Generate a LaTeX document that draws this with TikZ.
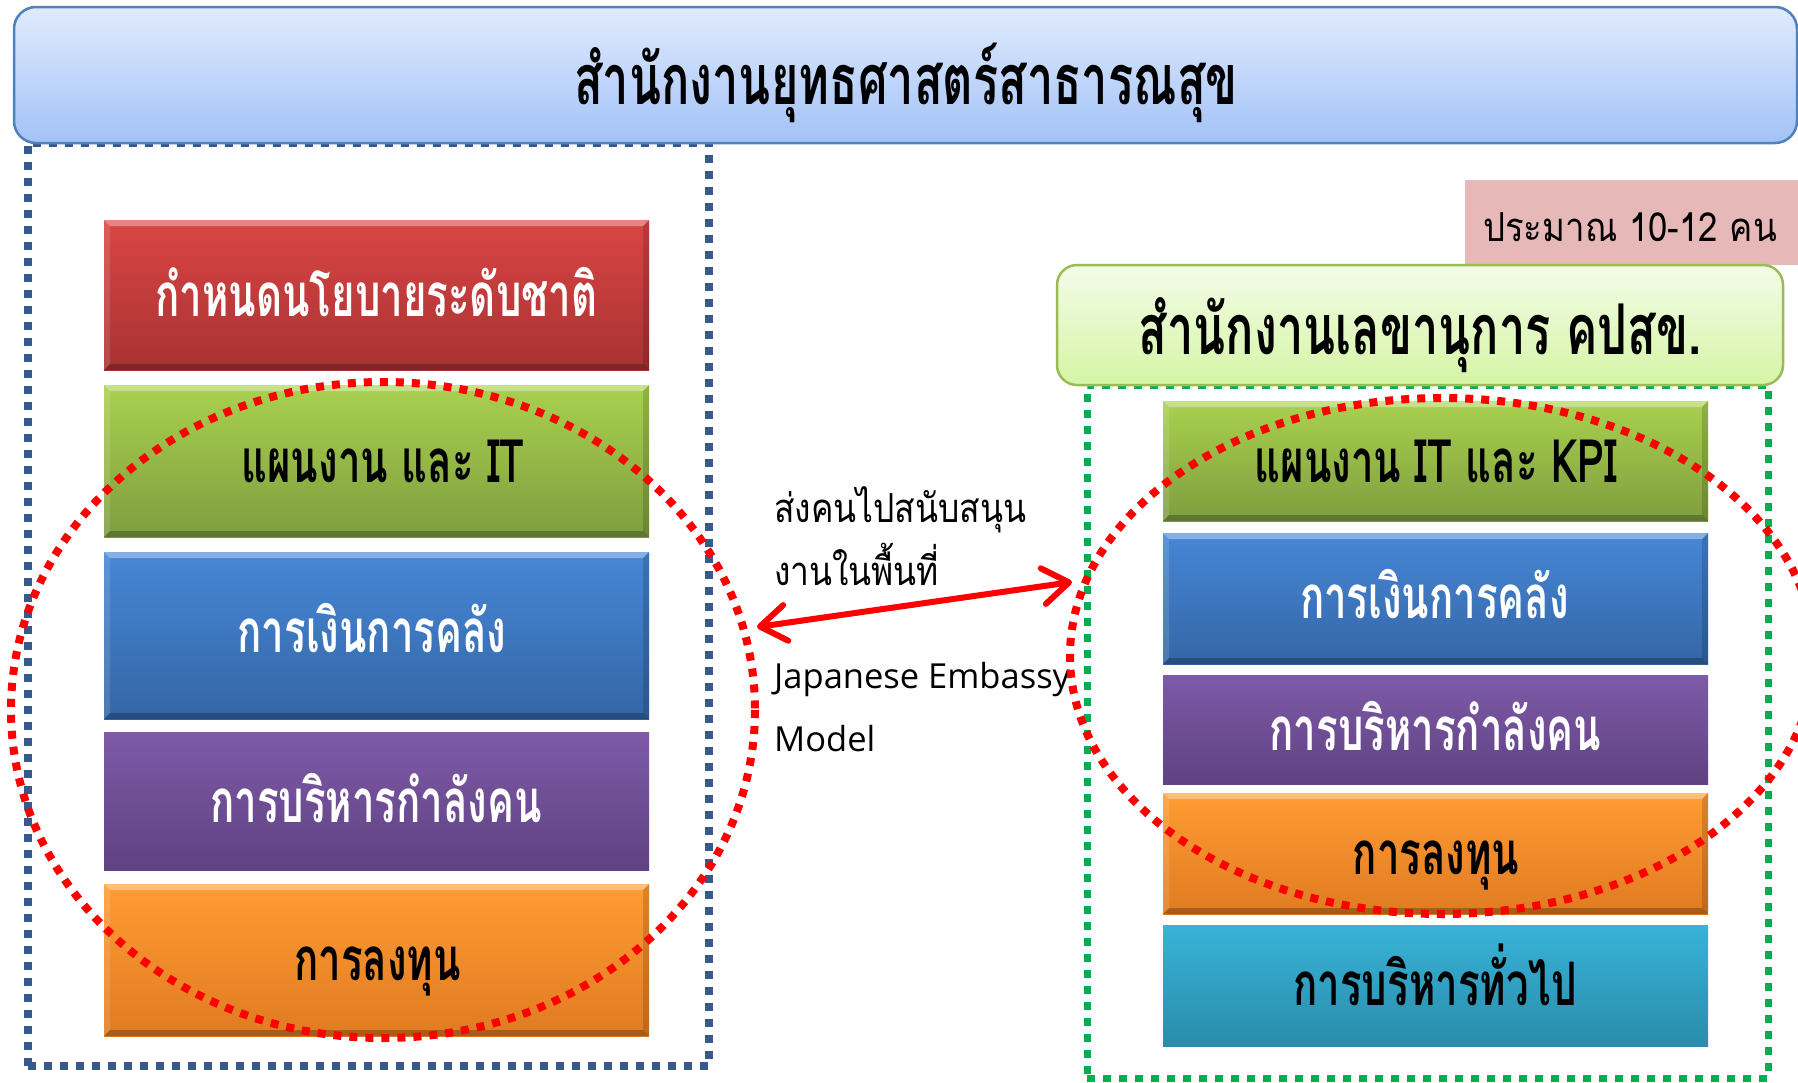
\documentclass[tikz,border=0pt]{standalone}
\usepackage{fontspec}
\usetikzlibrary{arrows.meta}
\newfontfamily\thaib[Script=Thai,FakeStretch=0.67]{Loma}
\newfontfamily\thair[Script=Thai,FakeStretch=0.84]{Loma}
\newfontfamily\thaip[Script=Thai,FakeStretch=0.87]{Loma}
\newfontfamily\latr{Open Sans}
\definecolor{hdtop}{HTML}{E0EBFD}
\definecolor{hdbot}{HTML}{A3C2F7}
\definecolor{hdline}{HTML}{4F81BD}
\definecolor{ghtop}{HTML}{F3FCE8}
\definecolor{ghbot}{HTML}{D5F5A5}
\definecolor{ghline}{HTML}{9BBB59}
\definecolor{pinkfill}{HTML}{E6B9B8}
\definecolor{redtop}{HTML}{DB4545}
\definecolor{redbot}{HTML}{A83232}
\definecolor{grntop}{HTML}{A9D14F}
\definecolor{grnbot}{HTML}{7F9D3E}
\definecolor{blutop}{HTML}{4687D6}
\definecolor{blubot}{HTML}{3466A6}
\definecolor{purtop}{HTML}{7E5AA8}
\definecolor{purbot}{HTML}{5F4282}
\definecolor{orgtop}{HTML}{FF9C33}
\definecolor{orgbot}{HTML}{E07B22}
\definecolor{cyntop}{HTML}{38B3D9}
\definecolor{cynbot}{HTML}{2A8CAA}
\definecolor{bframe}{HTML}{375A8C}
\definecolor{gframe}{HTML}{00B050}
\definecolor{redline}{HTML}{FF0000}
\begin{document}
\begin{tikzpicture}[x=1pt,y=-1pt,
  boxbase/.style={rectangle,inner sep=0pt,minimum width=545pt},
  bevel/.style={path picture={
    \fill[white,opacity=0.35] (path picture bounding box.north west) -- (path picture bounding box.north east) -- ([shift={(-6pt,-6pt)}]path picture bounding box.north east) -- ([shift={(6pt,-6pt)}]path picture bounding box.north west) -- cycle;
    \fill[white,opacity=0.12] (path picture bounding box.north west) -- ([shift={(6pt,-6pt)}]path picture bounding box.north west) -- ([shift={(6pt,6pt)}]path picture bounding box.south west) -- (path picture bounding box.south west) -- cycle;
    \fill[black,opacity=0.15] (path picture bounding box.north east) -- ([shift={(-6pt,-6pt)}]path picture bounding box.north east) -- ([shift={(-6pt,6pt)}]path picture bounding box.south east) -- (path picture bounding box.south east) -- cycle;
    \fill[black,opacity=0.25] (path picture bounding box.south west) -- (path picture bounding box.south east) -- ([shift={(-6pt,6pt)}]path picture bounding box.south east) -- ([shift={(6pt,6pt)}]path picture bounding box.south west) -- cycle;
  }},
  redbox/.style={boxbase,bevel,top color=redtop,bottom color=redbot},
  grnbox/.style={boxbase,bevel,top color=grntop,bottom color=grnbot},
  blubox/.style={boxbase,bevel,top color=blutop,bottom color=blubot},
  purbox/.style={boxbase,top color=purtop,bottom color=purbot},
  orgbox/.style={boxbase,bevel,top color=orgtop,bottom color=orgbot},
  cynbox/.style={boxbase,top color=cyntop,bottom color=cynbot},
  boxtext/.style={anchor=base,inner sep=0pt,font=\thaib\bfseries\fontsize{60}{64}\selectfont},
  headtext/.style={anchor=base,inner sep=0pt,font=\thaib\bfseries\fontsize{70}{74}\selectfont},
  frameline/.style={rectangle,inner sep=0pt,line width=8pt,dash pattern=on 8pt off 8pt},
  dotellipse/.style={draw=redline,line width=8pt,dash pattern=on 8pt off 8pt},
  midthai/.style={anchor=base west,inner sep=0pt,font=\thair\fontsize{40}{44}\selectfont},
  midlat/.style={anchor=base west,inner sep=0pt,font=\latr\fontsize{34.5}{38}\selectfont},
  bigarrow/.style={draw=redline,line width=6pt,{Straight Barb[length=26pt,width=36pt,round]}-{Straight Barb[length=26pt,width=36pt,round]}}
]
\useasboundingbox (0,0) rectangle (1798,1082);
\fill[white] (0,0) rectangle (1798,1082);

% dotted frames
\node[frameline,draw=bframe,minimum width=681pt,minimum height=923pt] (lframe) at (368.5,604.5) {};
\node[frameline,draw=gframe,line width=7pt,minimum width=681pt,minimum height=693pt] (rframe) at (1427.5,731.5) {};

% top header
\node[rectangle,rounded corners=22pt,draw=hdline,line width=2.5pt,top color=hdtop,bottom color=hdbot,minimum width=1783pt,minimum height=136pt,inner sep=0pt] (head) at (905.5,75) {};
\node[headtext] (headt) at (906,104) {สำนักงานยุทธศาสตร์สาธารณสุข};

% pink note
\node[rectangle,fill=pinkfill,minimum width=345pt,minimum height=85pt,inner sep=0pt] (pink) at (1637.5,222.5) {};
\node[anchor=base,inner sep=0pt,font=\thaip\fontsize{40}{44}\selectfont] (pinkt) at (1630,241) {ประมาณ 10-12 คน};

% green header
\node[rectangle,rounded corners=20pt,draw=ghline,line width=2.5pt,top color=ghtop,bottom color=ghbot,minimum width=726pt,minimum height=120pt,inner sep=0pt] (ghead) at (1420,325) {};
\node[headtext] (gheadt) at (1420,354) {สำนักงานเลขานุการ คปสข.};

% left boxes
\node[redbox,minimum height=150pt] (l1) at (376.5,295) {};
\node[boxtext,text=white] (l1t) at (376.5,316) {กำหนดนโยบายระดับชาติ};
\node[grnbox,minimum height=152pt] (l2) at (376.5,461) {};
\node[boxtext,text=black] (l2t) at (383,482) {แผนงาน และ IT};
\node[blubox,minimum height=167pt] (l3) at (376.5,635.5) {};
\node[boxtext,text=white] (l3t) at (372,652) {การเงินการคลัง};
\node[purbox,minimum height=138pt] (l4) at (376.5,801) {};
\node[boxtext,text=white] (l4t) at (376,822) {การบริหารกำลังคน};
\node[orgbox,minimum height=152pt] (l5) at (376.5,960) {};
\node[boxtext,text=black] (l5t) at (377.5,980) {การลงทุน};

% right boxes
\node[grnbox,minimum height=120pt] (r1) at (1435.5,461) {};
\node[boxtext,text=black] (r1t) at (1436,482) {แผนงาน IT และ KPI};
\node[blubox,minimum height=131pt] (r2) at (1435.5,598.5) {};
\node[boxtext,text=white] (r2t) at (1434.5,618) {การเงินการคลัง};
\node[purbox,minimum height=109pt] (r3) at (1435.5,729.5) {};
\node[boxtext,text=white] (r3t) at (1435.5,750) {การบริหารกำลังคน};
\node[orgbox,minimum height=121pt] (r4) at (1435.5,853.5) {};
\node[boxtext,text=black] (r4t) at (1436,874) {การลงทุน};
\node[cynbox,minimum height=121pt] (r5) at (1435.5,985.5) {};
\node[boxtext,text=black] (r5t) at (1435,1005) {การบริหารทั่วไป};

% middle texts
\node[midthai] (m1) at (774,522) {ส่งคนไปสนับสนุน};
\node[midthai] (m2) at (774,585) {งานในพื้นที่};
\node[midlat] (m3) at (774,688) {Japanese Embassy};
\node[midlat] (m4) at (774,751) {Model};

% arrow
\coordinate (arrL) at (757,627);
\coordinate (arrR) at (1072,582);
\draw[bigarrow] (arrL) -- (arrR);

% red dotted ellipses
\draw[dotellipse] (383,710) ellipse [x radius=372, y radius=328];
\draw[dotellipse] (1442,656) ellipse [x radius=372, y radius=258];
\end{tikzpicture}
\end{document}
